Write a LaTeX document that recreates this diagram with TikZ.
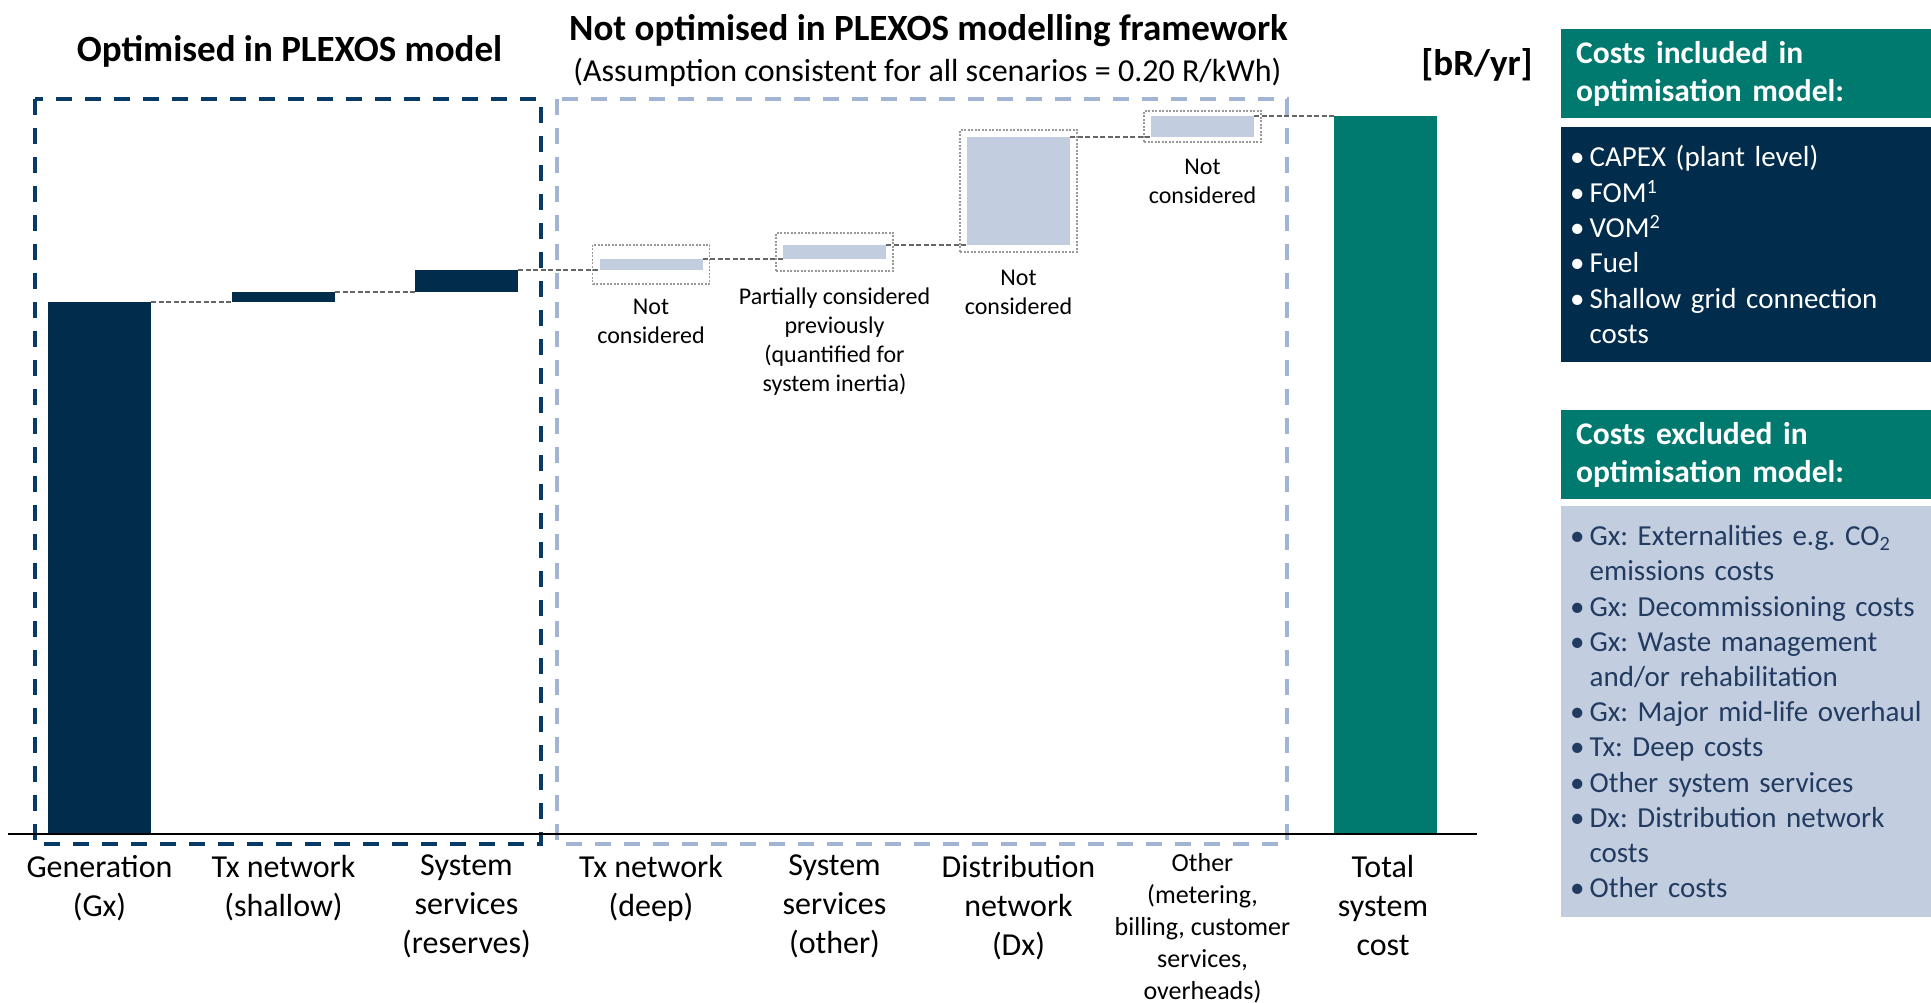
\documentclass[tikz,border=0pt]{standalone}
\usepackage{fontspec}
\setmainfont{Carlito}
\usetikzlibrary{positioning,fit}

\definecolor{navy}{HTML}{012C4C}
\definecolor{framenavy}{HTML}{083A66}
\definecolor{teal}{HTML}{00796E}
\definecolor{paleblue}{HTML}{C3CDE0}
\definecolor{frameblue}{HTML}{A2B4D4}
\definecolor{slatetext}{HTML}{223B60}

\tikzset{
  darkbar/.style={fill=navy,inner sep=0pt,outer sep=0pt,minimum width=103pt},
  lightbar/.style={fill=paleblue,inner sep=0pt,outer sep=0pt,minimum width=103pt},
  tealbar/.style={fill=teal,inner sep=0pt,outer sep=0pt,minimum width=103pt},
  linkline/.style={draw=black!60,line width=1.5pt,dash pattern=on 5pt off 2.5pt},
  notbox/.style={draw=black!40,line width=1.2pt,dash pattern=on 2pt off 1.5pt,inner xsep=7pt},
  notelabel/.style={align=center,inner sep=0pt,font=\fontsize{24}{29}\selectfont},
  catlabel/.style={anchor=north,align=center,inner sep=0pt,font=\fontsize{32}{39}\selectfont},
  headbox/.style={anchor=north west,fill=teal,text=white,minimum height=89pt,text width=340pt,
    inner xsep=15pt,align=left,font=\bfseries\fontsize{31.5}{38}\selectfont},
  listbox/.style={anchor=north west,text width=362pt,inner xsep=9pt,align=left}
}

\begin{document}
\begin{tikzpicture}[x=1pt,y=-1pt]
\useasboundingbox (0,0) rectangle (1931,1003);

% Titles
\node[font=\bfseries\fontsize{37}{44}\selectfont] (opttitle) at (289.5,51) {Optimised in PLEXOS model};
\node[font=\bfseries\fontsize{37}{44}\selectfont] (nottitle) at (928.5,30.5) {Not optimised in PLEXOS modelling framework};
\node[font=\fontsize{32}{38}\selectfont] (notsub) at (927.5,72) {(Assumption consistent for all scenarios = 0.20 R/kWh)};
\node[font=\bfseries\fontsize{37}{44}\selectfont] (unit) at (1477,65) {[bR/yr]};

% Dashed frames
\draw[framenavy,line width=4pt,dash pattern=on 16pt off 13pt] (35,99) rectangle (541,844);
\draw[frameblue,line width=4pt,dash pattern=on 16pt off 13pt] (557,99) rectangle (1287,844);

% Bars
\node[darkbar,minimum height=532pt] (gen) at (99.5,568) {};
\node[darkbar,minimum height=10pt] (txs) at (283.5,297) {};
\node[darkbar,minimum height=22pt] (res) at (466.5,281) {};
\node[lightbar,minimum height=11pt] (txd) at (651,264.5) {};
\node[lightbar,minimum height=14pt] (sso) at (834.5,252) {};
\node[lightbar,minimum height=108pt] (dx) at (1018.5,191) {};
\node[lightbar,minimum height=21pt] (oth) at (1202.5,126.5) {};
\node[tealbar,minimum height=718pt] (tot) at (1385.5,475) {};

% Dotted boxes round the bars that were not considered
\node[notbox,fit=(txd),inner ysep=14pt] (txdbox) {};
\node[notbox,fit=(sso),inner ysep=12pt] (ssobox) {};
\node[notbox,fit=(dx),inner ysep=7pt] (dxbox) {};
\node[notbox,fit=(oth),inner ysep=5pt] (othbox) {};

% Connections
\draw[linkline] (gen.north east) -- (txs.south west);
\draw[linkline] (txs.north east) -- (res.south west);
\draw[linkline] (res.north east) -- (txd.south west);
\draw[linkline] (txd.north east) -- (sso.south west);
\draw[linkline] (sso.north east) -- (dx.south west);
\draw[linkline] (dx.north east) -- (oth.south west);
\draw[linkline] (oth.north east) -- (tot.north west);

% Notes
\node[notelabel,below=14pt of txdbox] (txdnote) {Not\\considered};
\node[notelabel,below=16pt of ssobox] (ssonote) {Partially considered\\previously\\(quantified for\\system inertia)};
\node[notelabel,below=17pt of dxbox] (dxnote) {Not\\considered};
\node[notelabel,below=16pt of othbox] (othnote) {Not\\considered};

% Axis
\draw[line width=2pt] (8,834) -- (1477,834);

% Categories
\node[catlabel] (lgen) at (99.5,855) {Generation\\(Gx)};
\node[catlabel] (ltxs) at (283.5,855) {Tx network\\(shallow)};
\node[catlabel] (lres) at (466.5,855) {System\\services\\(reserves)};
\node[catlabel] (ltxd) at (651,855) {Tx network\\(deep)};
\node[catlabel] (lsso) at (834.5,855) {System\\services\\(other)};
\node[catlabel] (ldx) at (1018.5,855) {Distribution\\network\\(Dx)};
\node[catlabel,font=\fontsize{26}{32}\selectfont] (loth) at (1202.5,853.5) {Other\\(metering,\\billing, customer\\services,\\overheads)};
\node[catlabel] (ltot) at (1383,855) {Total\\system\\cost};

% Cost lists
\node[headbox] (inchead) at (1561,29) {Costs included in\\optimisation model:};
\node[listbox,fill=navy,text=white,minimum height=235pt,font=\frenchspacing\fontsize{29}{35.3}\selectfont] (incbody) at (1561,127)
  {\textbullet\hspace{5pt}CAPEX (plant level)\\
   \textbullet\hspace{5pt}FOM\textsuperscript{1}\\
   \textbullet\hspace{5pt}VOM\textsuperscript{2}\\
   \textbullet\hspace{5pt}Fuel\\
   \textbullet\hspace{5pt}Shallow grid connection\\
   \hphantom{\textbullet\hspace{5pt}}costs};
\node[headbox] (exchead) at (1561,410) {Costs excluded in\\optimisation model:};
\node[listbox,fill=paleblue,text=slatetext,minimum height=411pt,font=\frenchspacing\fontsize{29}{35.2}\selectfont] (excbody) at (1561,506)
  {\textbullet\hspace{5pt}Gx: Externalities e.g. CO\textsubscript{2}\\
   \hphantom{\textbullet\hspace{5pt}}emissions costs\\
   \textbullet\hspace{5pt}Gx: Decommissioning costs\\
   \textbullet\hspace{5pt}Gx: Waste management\\
   \hphantom{\textbullet\hspace{5pt}}and/or rehabilitation\\
   \textbullet\hspace{5pt}Gx: Major mid-life overhaul\\
   \textbullet\hspace{5pt}Tx: Deep costs\\
   \textbullet\hspace{5pt}Other system services\\
   \textbullet\hspace{5pt}Dx: Distribution network\\
   \hphantom{\textbullet\hspace{5pt}}costs\\
   \textbullet\hspace{5pt}Other costs};
\end{tikzpicture}
\end{document}
